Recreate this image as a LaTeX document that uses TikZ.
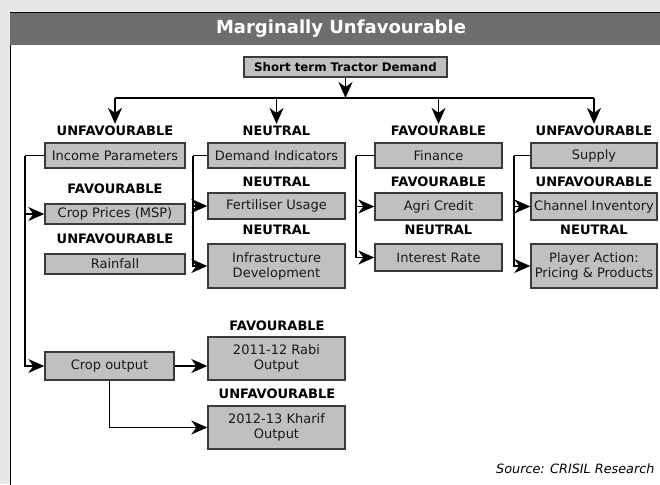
\documentclass[tikz,border=0pt]{standalone}
\usepackage{fontspec}
\setmainfont{DejaVu Sans}
\usetikzlibrary{arrows.meta,positioning}
\definecolor{pagegray}{HTML}{E6E7E9}
\definecolor{bargray}{HTML}{6D6E70}
\definecolor{boxgray}{HTML}{C0C0C0}
\definecolor{linegray}{HTML}{3A3A3A}
\begin{document}
\begin{tikzpicture}[x=1pt,y=-1pt,
    arr/.style={-{Stealth[length=16pt,width=14pt,inset=5pt]},line width=1.3pt},
    wire/.style={line width=1.3pt},
    box/.style 2 args={draw=linegray,line width=1.4pt,fill=boxgray,
        minimum width=#1pt,minimum height=#2pt,inner sep=1pt,align=center,
        font=\fontsize{13}{15}\selectfont,text=black!90},
    status/.style={font=\fontsize{13}{15}\bfseries\selectfont,inner sep=2pt},]
    \useasboundingbox (0,0) rectangle (660,484);
    \clip (0,0) rectangle (660,484);
    \fill[pagegray] (0,0) rectangle (660,484);
    \draw[fill=white,line width=1pt] (10.5,13) rectangle (680,500);
    \fill[bargray] (10,13.5) rectangle (680,45);
    \draw[line width=1pt] (10,13) -- (680,13);
    \node[text=white,font=\fontsize{18}{20}\bfseries\selectfont] (title) at (341,29) {Marginally Unfavourable};

    \node[box={203}{20},font=\fontsize{11.8}{14}\bfseries\selectfont,text=black] (demand) at (345.5,67) {Short term Tractor Demand};

    % column 1
    \node[status] (h1a) at (115,131) {UNFAVOURABLE};
    \node[box={140}{25}] (income) at (115,155.5) {Income Parameters};
    \node[status] (h1b) at (115,189) {FAVOURABLE};
    \node[box={140}{20}] (prices) at (115,214) {Crop Prices (MSP)};
    \node[status] (h1c) at (115,239) {UNFAVOURABLE};
    \node[box={140}{20}] (rainfall) at (115,264) {Rainfall};
    \node[box={129}{28}] (cropout) at (109.5,366) {Crop output};

    % column 2
    \node[status] (h2a) at (276.5,131) {NEUTRAL};
    \node[box={137}{25}] (indicators) at (276.5,155.5) {Demand Indicators};
    \node[status] (h2b) at (276.5,182) {NEUTRAL};
    \node[box={137}{26}] (fertiliser) at (276.5,206) {Fertiliser Usage};
    \node[status] (h2c) at (276.5,230) {NEUTRAL};
    \node[box={137}{44}] (infra) at (276.5,266) {Infrastructure\\Development};

    % column 3
    \node[status] (h3a) at (438.5,131) {FAVOURABLE};
    \node[box={127}{25}] (finance) at (438.5,155.5) {Finance};
    \node[status] (h3b) at (438.5,182) {FAVOURABLE};
    \node[box={127}{27}] (agri) at (438.5,206.5) {Agri Credit};
    \node[status] (h3c) at (438.5,230) {NEUTRAL};
    \node[box={127}{27}] (interest) at (438.5,257.5) {Interest Rate};

    % column 4
    \node[status] (h4a) at (594,131) {UNFAVOURABLE};
    \node[box={126}{25}] (supply) at (594,155.5) {Supply};
    \node[status] (h4b) at (594,182) {UNFAVOURABLE};
    \node[box={126}{27}] (channel) at (594,206.5) {Channel Inventory};
    \node[status] (h4c) at (594,230) {NEUTRAL};
    \node[box={126}{44}] (player) at (594,266) {Player Action:\\Pricing \& Products};

    % crop output
    \node[status] (h5a) at (277,326) {FAVOURABLE};
    \node[box={137}{43}] (rabi) at (276.5,358.5) {2011-12 Rabi\\Output};
    \node[status] (h5b) at (277,394) {UNFAVOURABLE};
    \node[box={137}{43}] (kharif) at (276.5,427.5) {2012-13 Kharif\\Output};

    \node[font=\fontsize{12.8}{15}\itshape\selectfont,anchor=east] (source) at (658,469) {Source: CRISIL Research};

    % connectors
    \coordinate (bus) at (345.5,98);
    \draw[arr] (demand.south) -- (bus);
    \draw[wire] (bus -| h1a) -- (bus -| h4a);
    \foreach \h in {h1a,h2a,h3a,h4a}
        \draw[arr] (bus -| \h) -- (\h.north);

    \coordinate (t1) at (25,155.5);
    \coordinate (t2) at (193,155.5);
    \coordinate (t3) at (356,155.5);
    \coordinate (t4) at (514,155.5);
    \draw[wire] (income.west) -- (t1);
    \draw[arr] (t1) |- (cropout.west);
    \draw[arr] (t1 |- prices.west) -- (prices.west);
    \draw[wire] (indicators.west) -- (t2);
    \draw[arr] (t2) |- (infra.west);
    \draw[arr] (t2 |- fertiliser.west) -- (fertiliser.west);
    \draw[wire] (finance.west) -- (t3);
    \draw[arr] (t3) |- (interest.west);
    \draw[arr] (t3 |- agri.west) -- (agri.west);
    \draw[wire] (supply.west) -- (t4);
    \draw[arr] (t4) |- (player.west);
    \draw[arr] (t4 |- channel.west) -- (channel.west);
    \draw[arr] (cropout.east) -- (cropout.east -| rabi.west);
    \draw[arr] (cropout.south) |- (kharif.west);
\end{tikzpicture}
\end{document}
